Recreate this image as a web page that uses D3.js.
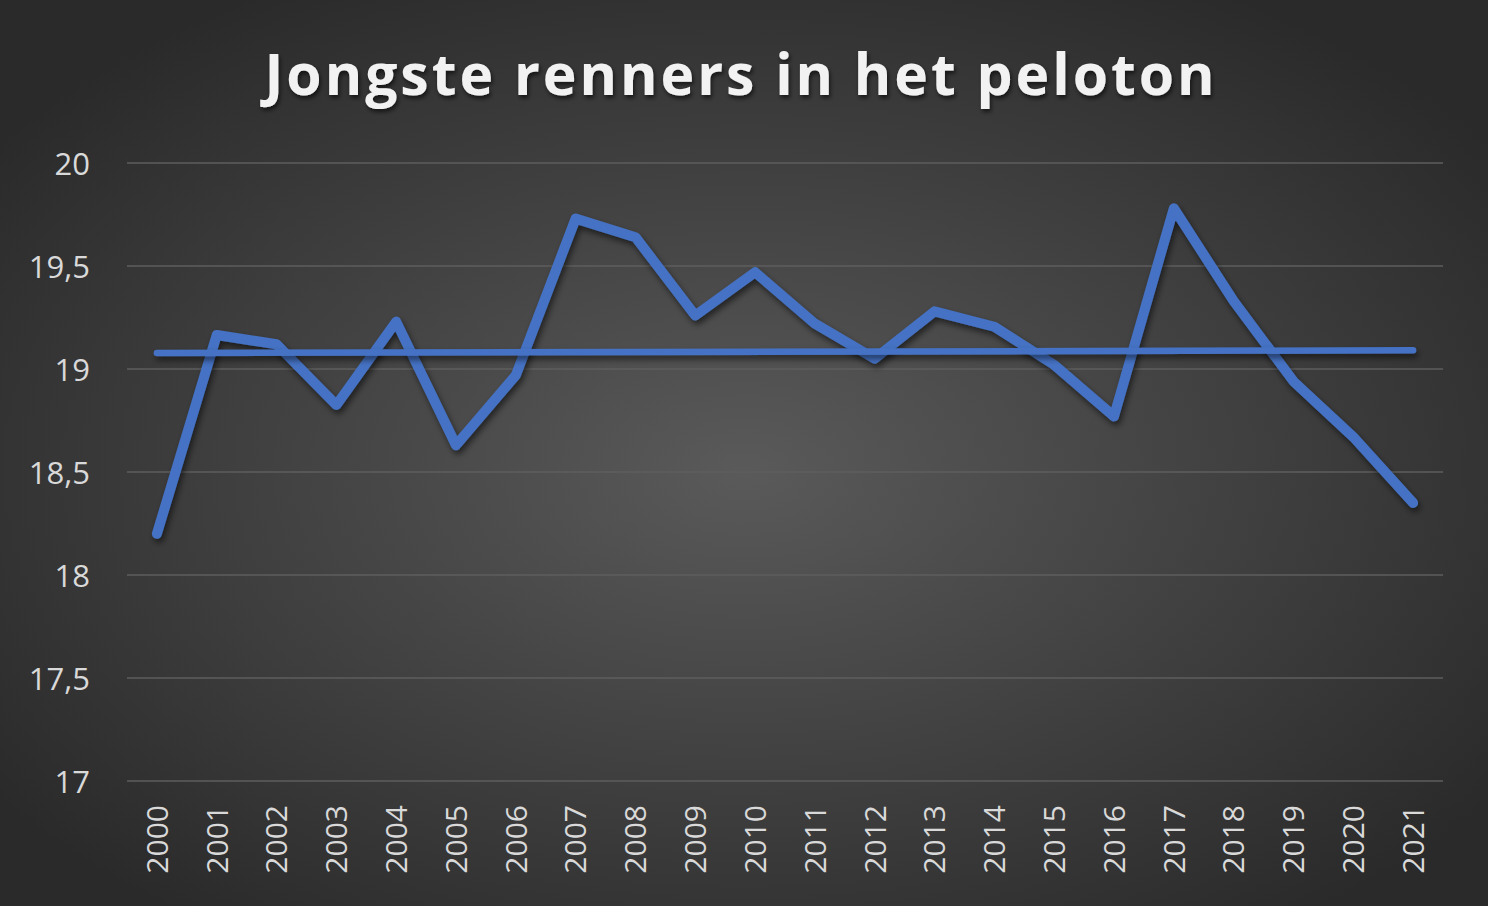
<!DOCTYPE html>
<html><head><meta charset="utf-8">
<script src="https://cdn.jsdelivr.net/npm/d3@7"></script>
<style>html,body{margin:0;padding:0;background:#2b2b2b;overflow:hidden}</style>
</head><body>
<script>
const title = "Jongste renners in het peloton";
const years = ["2000","2001","2002","2003","2004","2005","2006","2007","2008","2009","2010","2011","2012","2013","2014","2015","2016","2017","2018","2019","2020","2021"];
const ages = [18.20,19.165,19.12,18.825,19.23,18.63,18.97,19.73,19.64,19.26,19.47,19.22,19.05,19.28,19.205,19.02,18.77,19.78,19.33,18.94,18.67,18.35];
const yTicks = [17,17.5,18,18.5,19,19.5,20];

const W = 1488, H = 906;
const svg = d3.select("body").append("svg").attr("width", W).attr("height", H);
const defs = svg.append("defs");
const rg = defs.append("radialGradient").attr("id","bg").attr("cx","50%").attr("cy","52%").attr("r","62%")
  .attr("gradientUnits","objectBoundingBox");
rg.append("stop").attr("offset","0%").attr("stop-color","#5a5a5a");
rg.append("stop").attr("offset","100%").attr("stop-color","#2a2a2a");
const f = defs.append("filter").attr("id","sh").attr("filterUnits","userSpaceOnUse")
  .attr("x",0).attr("y",0).attr("width",W).attr("height",H);
f.append("feDropShadow").attr("dx",2).attr("dy",4).attr("stdDeviation",3).attr("flood-color","#000").attr("flood-opacity",0.55);
const ft = defs.append("filter").attr("id","tsh").attr("filterUnits","userSpaceOnUse")
  .attr("x",0).attr("y",0).attr("width",W).attr("height",200);
ft.append("feDropShadow").attr("dx",1.5).attr("dy",3).attr("stdDeviation",2).attr("flood-color","#000").attr("flood-opacity",0.6);

svg.append("rect").attr("width",W).attr("height",H).attr("fill","url(#bg)");

const x = d3.scaleBand().domain(years).range([127,1443]);
const y = d3.scaleLinear().domain([17,20]).range([781,163]);
const cx = d => x(d) + x.bandwidth()/2;

// gridlines
svg.append("g").selectAll("line").data(yTicks).join("line")
  .attr("x1",127).attr("x2",1443).attr("y1",d=>y(d)).attr("y2",d=>y(d))
  .attr("stroke","#5e5e5e").attr("stroke-width",1.6);

// y axis labels
const yAxis = d3.axisLeft(y).tickValues(yTicks).tickSize(0).tickPadding(0)
  .tickFormat(d => String(d).replace(".", ","));
const gy = svg.append("g").attr("transform","translate(90,0)").call(yAxis);
gy.select(".domain").remove();
gy.selectAll("text").attr("fill","#d9d9d9").attr("font-family","'Open Sans'").attr("font-size",31).attr("dy","0.36em");

// x axis labels
const xAxis = d3.axisBottom(x).tickSize(0).tickPadding(0);
const gx = svg.append("g").attr("transform","translate(0,805)").call(xAxis);
gx.select(".domain").remove();
gx.selectAll("text").attr("fill","#d9d9d9").attr("font-family","'Open Sans'").attr("font-size",30)
  .attr("text-anchor","end").attr("transform","rotate(-90)").attr("x",0).attr("y",0).attr("dy","0.36em");

// trend line (least squares)
const n = ages.length;
const idx = d3.range(n);
const mx = d3.mean(idx), my = d3.mean(ages);
const slope = d3.sum(idx, i => (i-mx)*(ages[i]-my)) / d3.sum(idx, i => (i-mx)*(i-mx));
const icpt = my - slope*mx;
const trend = [years[0], years[n-1]].map((yr,k) => ({yr, v: icpt + slope*(k ? n-1 : 0)}));

const line = d3.line().x(d => cx(d.yr)).y(d => y(d.v));
const series = years.map((yr,i) => ({yr, v: ages[i]}));

svg.append("path").datum(series).attr("d", line).attr("fill","none")
  .attr("stroke","#4472c4").attr("stroke-width",10).attr("stroke-linejoin","round").attr("stroke-linecap","round")
  .attr("filter","url(#sh)");
svg.append("path").datum(trend).attr("d", line).attr("fill","none")
  .attr("stroke","#4472c4").attr("stroke-width",6.5).attr("stroke-linecap","round")
  .attr("filter","url(#sh)");

// title
const t = svg.append("text").attr("x",741).attr("y",95).attr("text-anchor","middle")
  .attr("font-family","'Open Sans'").attr("font-weight","bold").attr("font-size",58)
  .attr("fill","#f2f2f2").attr("letter-spacing","3px").attr("filter","url(#tsh)").text(title);
const tl = t.node().getComputedTextLength();
if (tl > 0) t.attr("textLength", 953).attr("lengthAdjust","spacingAndGlyphs");
</script>
</body></html>
